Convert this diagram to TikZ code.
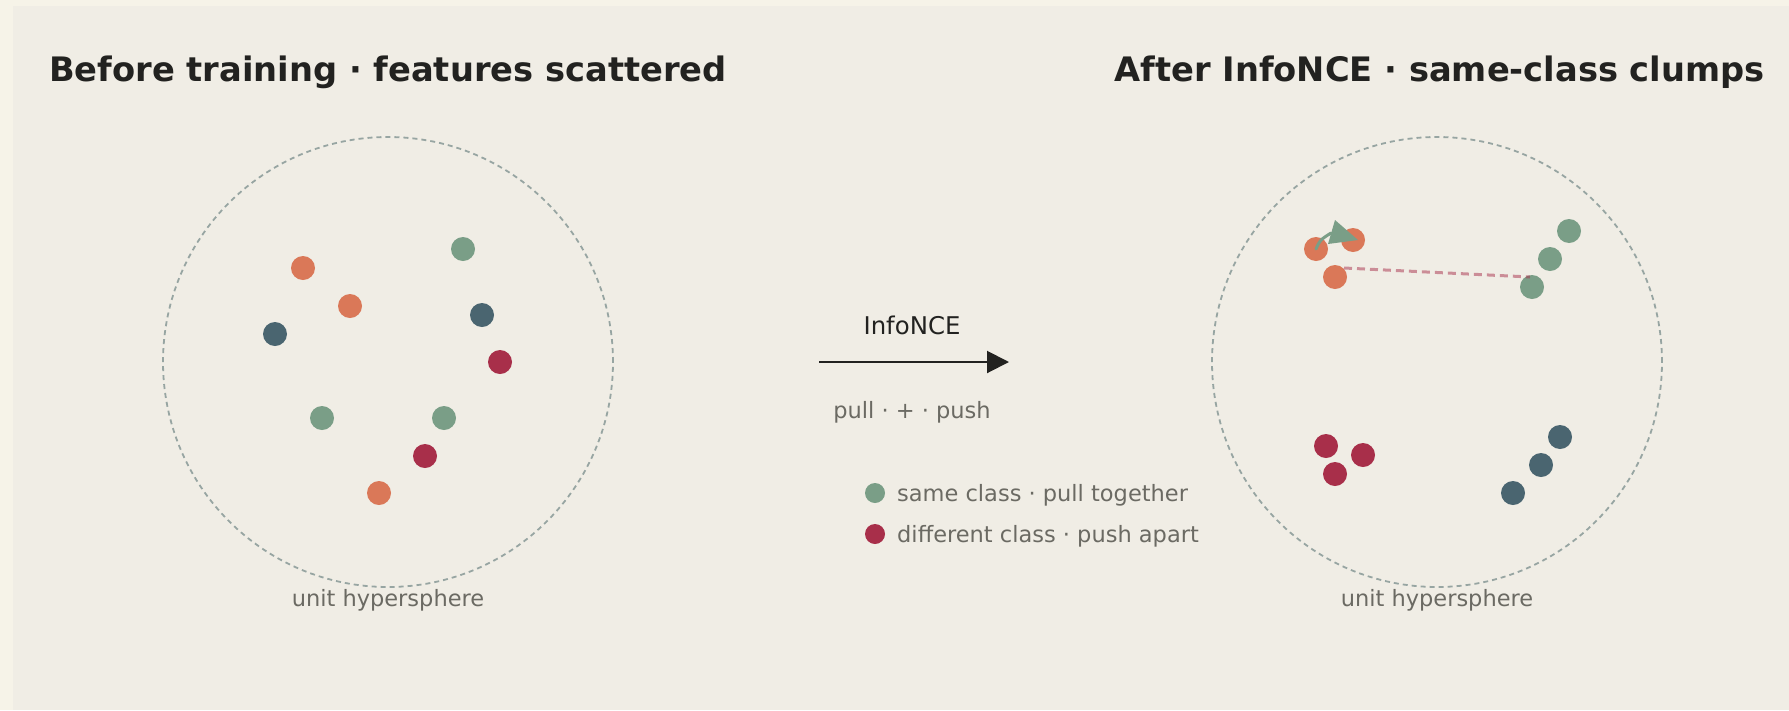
\documentclass[tikz,border=0pt]{standalone}
\usepackage{fontspec}
\setmainfont{DejaVu Sans}
\usetikzlibrary{arrows.meta}

\definecolor{rim}{HTML}{F6F3E8}
\definecolor{paper}{HTML}{F0EDE5}
\definecolor{clay}{HTML}{DA7858}
\definecolor{sage}{HTML}{7A9E87}
\definecolor{slate}{HTML}{4A6570}
\definecolor{wine}{HTML}{A82F4A}
\definecolor{ink}{HTML}{222220}
\definecolor{muted}{HTML}{6B6A63}
\definecolor{ring}{HTML}{97A5A2}

\tikzset{
  feat/.style={circle, minimum size=24pt, inner sep=0pt, fill=#1},
  legdot/.style={circle, minimum size=20pt, inner sep=0pt, fill=#1},
  sphere/.style={circle, minimum size=450pt, inner sep=0pt, draw=ring,
                 line width=1.8pt, dash pattern=on 5pt off 4pt},
  headline/.style={inner sep=0pt, text=ink, font=\fontsize{33.7}{40}\selectfont\bfseries},
  caption/.style={inner sep=0pt, text=muted, font=\fontsize{22.5}{27}\selectfont},
  losslabel/.style={inner sep=0pt, text=ink, font=\fontsize{24.4}{29}\selectfont},
  pushline/.style={wine, opacity=0.5, line width=3pt, dash pattern=on 8pt off 5pt},
  pullline/.style={sage, line width=3pt},
}

\begin{document}
\begin{tikzpicture}[x=1pt, y=-1pt]
  % paper
  \fill[rim] (0,0) rectangle (1789,710);
  \fill[paper] (13,6) rectangle (1789,710);
  \useasboundingbox (0,0) rectangle (1789,710);

  % titles
  \node[headline, anchor=base west] (tl) at (49,81) {Before training · features scattered};
  \node[headline, anchor=base east] (tr) at (1765,81) {After InfoNCE · same-class clumps};

  % left hypersphere: scattered features
  \node[sphere] (sl) at (388,362) {};
  \node[caption, anchor=base] (cl) at (388,606) {unit hypersphere};
  \node[feat=clay]  (a1) at (303,268) {};
  \node[feat=clay]  (a2) at (350,306) {};
  \node[feat=slate] (a3) at (275,334) {};
  \node[feat=sage]  (a4) at (463,249) {};
  \node[feat=slate] (a5) at (482,315) {};
  \node[feat=wine]  (a6) at (500,362) {};
  \node[feat=sage]  (a7) at (322,418) {};
  \node[feat=sage]  (a8) at (444,418) {};
  \node[feat=wine]  (a9) at (425,456) {};
  \node[feat=clay]  (a10) at (379,493) {};

  % middle: InfoNCE arrow and legend
  \coordinate (ms) at (819,362);
  \coordinate (me) at (1009,362);
  \draw[ink, line width=2pt, -{Triangle[length=22pt, width=22pt]}] (ms) -- (me);
  \node[losslabel, anchor=base] (ml) at (912,334) {InfoNCE};
  \node[caption, anchor=base] (mp) at (912,418) {pull · + · push};
  \node[legdot=sage] (lg1) at (875,493) {};
  \node[caption, anchor=base west] (lt1) at (897,501) {same class · pull together};
  \node[legdot=wine] (lg2) at (875,534) {};
  \node[caption, anchor=base west] (lt2) at (897,542) {different class · push apart};

  % right hypersphere: clustered features
  \node[sphere] (sr) at (1437,362) {};
  \node[caption, anchor=base] (cr) at (1437,606) {unit hypersphere};
  \node[feat=clay]  (b1) at (1316,249) {};
  \node[feat=clay]  (b2) at (1353,240) {};
  \node[feat=clay]  (b3) at (1335,277) {};
  \node[feat=sage]  (g1) at (1569,231) {};
  \node[feat=sage]  (g2) at (1550,259) {};
  \node[feat=sage]  (g3) at (1532,287) {};
  \node[feat=wine]  (r1) at (1326,446) {};
  \node[feat=wine]  (r2) at (1363,455) {};
  \node[feat=wine]  (r3) at (1335,474) {};
  \node[feat=slate] (s1) at (1560,437) {};
  \node[feat=slate] (s2) at (1541,465) {};
  \node[feat=slate] (s3) at (1513,493) {};

  % push between clusters
  \coordinate (pa) at (1344,268);
  \coordinate (pb) at (1530,277);
  \draw[pushline] (pa) -- (pb);

  % pull within a cluster: short curved shaft and a wide triangular head
  \coordinate (hb) at (1331,233);
  \coordinate (hl) at (1335,220);
  \coordinate (hr) at (1328,244);
  \coordinate (ht) at (1358,240);
  \draw[pullline, line cap=round] (b1.center) .. controls (1320,240) .. (hb);
  \fill[sage] (hl) -- (ht) -- (hr) -- cycle;
\end{tikzpicture}
\end{document}
